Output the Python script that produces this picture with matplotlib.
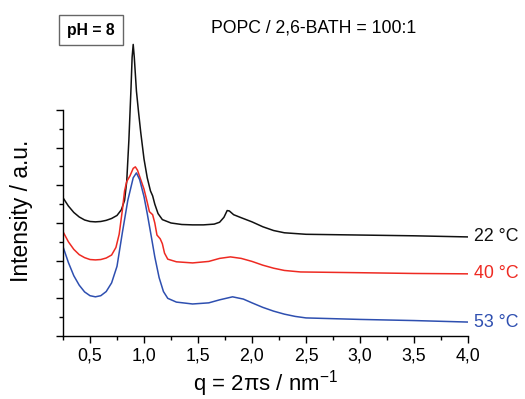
import matplotlib
matplotlib.use("Agg")
import matplotlib.pyplot as plt
from matplotlib.ticker import FixedLocator, MultipleLocator, NullFormatter

plt.rcParams['font.family'] = ['Liberation Sans', 'DejaVu Sans']
plt.rcParams['mathtext.fontset'] = 'custom'
plt.rcParams['mathtext.rm'] = 'Liberation Sans'
plt.rcParams['mathtext.it'] = 'Liberation Sans:italic'

# ---- data ----
q_22 = [0.25, 0.30, 0.35, 0.40, 0.45, 0.50, 0.55, 0.60, 0.65, 0.70, 0.75, 0.79, 0.82, 0.84,
        0.86, 0.88, 0.89, 0.90, 0.91, 0.93, 0.95, 0.97, 1.00, 1.03, 1.06, 1.08, 1.10, 1.13,
        1.17, 1.25, 1.35, 1.45, 1.55, 1.65, 1.70, 1.74, 1.77, 1.79, 1.83, 1.90, 2.00, 2.10,
        2.20, 2.30, 2.50, 3.00, 3.50, 4.00]
I_22 = [3.67, 3.45, 3.28, 3.16, 3.08, 3.04, 3.03, 3.04, 3.07, 3.12, 3.20, 3.35, 3.60, 4.10,
        5.20, 6.60, 7.40, 7.74, 7.40, 6.50, 5.93, 5.40, 4.70, 4.20, 3.85, 3.72, 3.50, 3.25,
        3.09, 3.00, 2.96, 2.95, 2.95, 2.97, 3.02, 3.15, 3.33, 3.32, 3.22, 3.14, 3.03, 2.90,
        2.80, 2.74, 2.70, 2.68, 2.66, 2.63]

q_40 = [0.25, 0.30, 0.35, 0.40, 0.45, 0.50, 0.55, 0.60, 0.65, 0.70, 0.74, 0.77, 0.80, 0.82,
        0.84, 0.87, 0.90, 0.92, 0.94, 0.97, 1.00, 1.03, 1.05, 1.08, 1.10, 1.12, 1.15, 1.17,
        1.19, 1.22, 1.30, 1.45, 1.60, 1.70, 1.80, 1.90, 2.00, 2.10, 2.20, 2.30, 2.45, 3.00,
        3.50, 4.00]
I_40 = [2.77, 2.50, 2.30, 2.16, 2.08, 2.03, 2.02, 2.03, 2.07, 2.15, 2.35, 2.70, 3.35, 3.85,
        4.10, 4.25, 4.45, 4.49, 4.40, 4.15, 3.90, 3.55, 3.30, 3.22, 3.00, 2.68, 2.58, 2.45,
        2.20, 2.04, 1.97, 1.94, 1.98, 2.06, 2.10, 2.06, 1.98, 1.88, 1.80, 1.74, 1.70, 1.68,
        1.66, 1.65]

q_53 = [0.25, 0.30, 0.35, 0.40, 0.45, 0.50, 0.55, 0.60, 0.65, 0.70, 0.75, 0.80, 0.85, 0.90,
        0.93, 0.96, 1.00, 1.03, 1.07, 1.10, 1.14, 1.18, 1.22, 1.30, 1.45, 1.60, 1.70, 1.82,
        1.92, 2.00, 2.10, 2.20, 2.30, 2.40, 2.50, 3.00, 3.50, 4.00]
I_53 = [2.37, 1.95, 1.60, 1.35, 1.17, 1.07, 1.04, 1.07, 1.18, 1.41, 1.85, 2.75, 3.60, 4.20,
        4.33, 4.15, 3.70, 3.25, 2.60, 2.10, 1.55, 1.18, 1.00, 0.90, 0.85, 0.88, 0.96, 1.04,
        0.98, 0.88, 0.76, 0.66, 0.58, 0.52, 0.48, 0.44, 0.41, 0.37]

series = [
    (q_22, I_22, "22 °C", "#111111"),
    (q_40, I_40, "40 °C", "#ee2a22"),
    (q_53, I_53, "53 °C", "#2e4fb0"),
]

x_ticks = [0.5, 1.0, 1.5, 2.0, 2.5, 3.0, 3.5, 4.0]
x_tick_labels = ["0,5", "1,0", "1,5", "2,0", "2,5", "3,0", "3,5", "4,0"]

title_text = "POPC / 2,6-BATH = 100:1"
ph_text = "pH = 8"

# ---- figure ----
W, H = 525, 399
fig = plt.figure(figsize=(W / 100, H / 100), dpi=100)
ax_left, ax_right, ax_bottom, ax_top = 63, 468, 336, 10
ax = fig.add_axes([ax_left / W, 1 - ax_bottom / H,
                   (ax_right - ax_left) / W, (ax_bottom - ax_top) / H])

unit_px = 37.67
ax.set_xlim(0.25, 4.0)
ax.set_ylim(0, (ax_bottom - ax_top) / unit_px)

for q, I, lab, col in series:
    ax.plot(q, I, color=col, lw=1.1, solid_joinstyle='round')
    ax.annotate(lab, xy=(q[-1], I[-1]), xytext=(4, 0), textcoords='offset points',
                va='center', ha='left', color=col, fontsize=12.8, annotation_clip=False)

for s in ['top', 'right']:
    ax.spines[s].set_visible(False)
ax.spines['left'].set_bounds(0, 6)
ax.spines['left'].set_linewidth(1.0)
ax.spines['bottom'].set_linewidth(1.0)

ax.xaxis.set_major_locator(FixedLocator(x_ticks))
ax.set_xticklabels(x_tick_labels)
ax.xaxis.set_minor_locator(MultipleLocator(0.25))
ax.yaxis.set_major_locator(FixedLocator([0, 1, 2, 3, 4, 5, 6]))
ax.yaxis.set_minor_locator(FixedLocator([0.5, 1.5, 2.5, 3.5, 4.5, 5.5]))
ax.yaxis.set_major_formatter(NullFormatter())
ax.tick_params(which='major', direction='out', length=5, width=1.0, labelsize=12.8)
ax.tick_params(which='minor', direction='out', length=3, width=1.0)

ax.set_xlabel("q = 2πs / nm$^{-1}$", fontsize=16)
ax.xaxis.set_label_coords(0.5, -0.098)
ax.set_ylabel("Intensity / a.u.", fontsize=16.4)
ax.yaxis.set_label_coords(-0.074, 0.383)

fig.text(314 / W, 1 - 28 / H, title_text, fontsize=12.7, ha='center', va='center')
fig.text(91 / W, 1 - 30 / H, ph_text, fontsize=11.3, fontweight='bold', ha='center', va='center',
         bbox=dict(boxstyle='square,pad=0.5', fc='white', ec='#666666', lw=1.0))

fig.savefig("out.png", dpi=100)
